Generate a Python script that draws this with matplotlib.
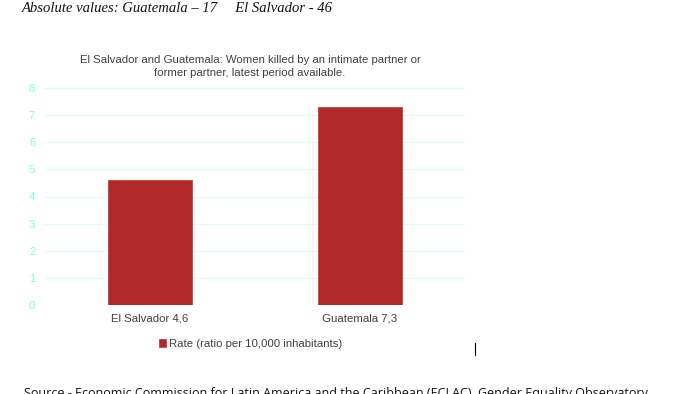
import numpy as np
import matplotlib.pyplot as plt

# data
countries = ['El Salvador 4,6', 'Guatemala 7,3']
rate = [4.6, 7.3]
yticks = [0, 1, 2, 3, 4, 5, 6, 7, 8]

fig = plt.figure(figsize=(7, 3.94), dpi=100)
fig.patch.set_facecolor('white')

# plot area in pixel terms: x 45..465, y 88..305 (from top)
ax = fig.add_axes([45 / 700, 1 - 305 / 394, 420 / 700, 217 / 394])
x = np.arange(len(countries))
ax.bar(x, rate, width=0.4, color='#B02828', edgecolor='#C84040', linewidth=0.6, zorder=3,
       label='Rate (ratio per 10,000 inhabitants)')
ax.set_xlim(-0.5, 1.5)
ax.set_ylim(0, 8)
ax.set_yticks(yticks)
ax.set_xticks(x)
ax.set_xticklabels(countries, fontsize=8.2, color='#404040', family='Liberation Sans')
ax.tick_params(axis='y', colors='#7FFFD4', labelsize=8.2, length=0, pad=7)
ax.tick_params(axis='x', length=0, pad=6)
for lab in ax.get_yticklabels():
    lab.set_family('Liberation Sans')
ax.grid(axis='y', color='#E0FAF4', linewidth=0.8, zorder=0)
for s in ax.spines.values():
    s.set_visible(False)

ax.legend(loc='upper center', bbox_to_anchor=(0.49, -0.11), frameon=False,
          prop={'family': 'Liberation Sans', 'size': 8.2}, handlelength=0.6,
          handleheight=0.6, handletextpad=0.3, labelcolor='#404040')

fig.text(250 / 700, 1 - 66.5 / 394,
         'El Salvador and Guatemala: Women killed by an intimate partner or\nformer partner, latest period available.',
         ha='center', va='center', fontsize=8.2, color='#404040', family='Liberation Sans',
         linespacing=1.4)

fig.text(22 / 700, 1 - 8 / 394, 'Absolute values: Guatemala \u2013 17     El Salvador - 46',
         ha='left', va='center', fontsize=10.5, style='italic', family='Liberation Serif', color='#111111')

fig.text(24 / 700, 1 - 387 / 394,
         'Source - Economic Commission for Latin America and the Caribbean (ECLAC), Gender Equality Observatory',
         ha='left', va='top', fontsize=9, family='Open Sans', color='#111111')

# text cursor
fig.add_artist(plt.Line2D([475 / 700, 475 / 700], [1 - 343 / 394, 1 - 355 / 394], color='black', linewidth=0.8))

fig.savefig('out.png', dpi=100)
